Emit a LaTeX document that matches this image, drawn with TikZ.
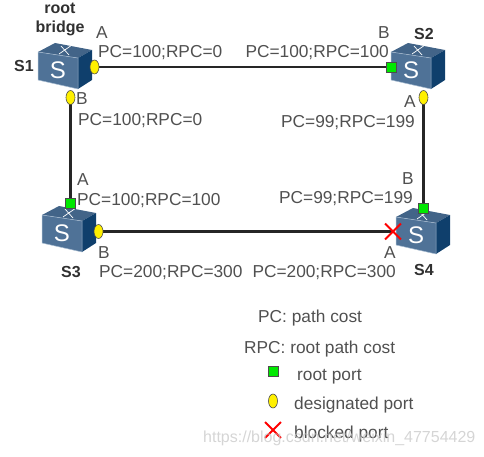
\documentclass[tikz,border=0pt]{standalone}
\usepackage{fontspec}
\setmainfont{Liberation Sans}
\usepackage{tikz}
\usetikzlibrary{shapes.geometric, shapes.misc}
\definecolor{labelgray}{HTML}{505050}
\definecolor{boldgray}{HTML}{303030}
\definecolor{linkdark}{HTML}{262626}
\definecolor{cubefront}{HTML}{4F7297}
\definecolor{cubetop}{HTML}{426488}
\definecolor{cubeside}{HTML}{0F3F6C}
\definecolor{cubeedge}{HTML}{A9BDD2}
\definecolor{rootgreen}{HTML}{00E800}
\definecolor{desigyellow}{HTML}{FFF000}
\tikzset{
    portlabel/.style={text=labelgray, font=\fontsize{17.3}{18}\selectfont, inner sep=0pt, yshift=-1pt},
    swname/.style={text=boldgray, font=\fontsize{16}{18}\selectfont\bfseries, inner sep=0pt},
    rootport/.style={rectangle, draw=black!70, fill=rootgreen, line width=0.6pt, minimum size=10pt, inner sep=0pt},
    desigport/.style={ellipse, draw=black!70, fill=desigyellow, line width=0.6pt, minimum width=9pt, minimum height=14pt, inner sep=0pt},
    blockport/.style={cross out, draw=red, line width=1.8pt, minimum size=14pt, inner sep=0pt},
    link/.style={draw=linkdark, line width=2.2pt},
    switchbox/.pic={
        \fill[cubefront] (-27,-14) -- (13,-8) -- (13,23) -- (-27,14) -- cycle;
        \fill[cubetop] (-27,-14) -- (-10,-23) -- (27,-16) -- (13,-8) -- cycle;
        \fill[cubeside] (13,-8) -- (27,-16) -- (27,14) -- (13,23) -- cycle;
        \draw[cubeedge, line width=0.5pt] (-27,-14) -- (13,-8) -- (13,23) (-27,-14) -- (-27,14) -- (13,23);
        \draw[white, line width=0.7pt] (-6,-12) -- (7,-21) (-4,-20) -- (4,-11);
        \node[text=white, inner sep=0pt, font=\fontsize{24}{24}\selectfont] at (-7,4) {S};
    },
}
\begin{document}
\begin{tikzpicture}[x=1pt, y=-1pt]
    \useasboundingbox (0,0) rectangle (484,457);

    % Links first, ports sit on top
    \coordinate (s1a) at (94.5,67);
    \coordinate (s1b) at (70.5,97.5);
    \coordinate (s2b) at (391,67);
    \coordinate (s2a) at (423.5,97.5);
    \coordinate (s3a) at (70.5,203);
    \coordinate (s3b) at (98.5,231.5);
    \coordinate (s4b) at (423.5,208);
    \coordinate (s4a) at (393,231.5);
    \draw[link] (s1a) -- (s2b);
    \draw[link] (s1b) -- (s3a);
    \draw[link] (s2a) -- (s4b);
    \draw[link] (s3b) -- (s4a);

    % Switches
    \pic at (65,66) {switchbox};
    \pic at (418,66) {switchbox};
    \pic at (69,229) {switchbox};
    \pic at (423,231) {switchbox};

    % Ports
    \node[desigport] (p1a) at (s1a) {};
    \node[desigport] (p1b) at (s1b) {};
    \node[rootport] (p2b) at (s2b) {};
    \node[desigport] (p2a) at (s2a) {};
    \node[rootport] (p3a) at (s3a) {};
    \node[desigport] (p3b) at (s3b) {};
    \node[rootport] (p4b) at (s4b) {};
    \node[blockport] (p4a) at (s4a) {};

    % Switch names
    \node[swname] (rootname) at (60,8) {root};
    \node[swname] (bridgename) at (60,28) {bridge};
    \node[swname] (s1name) at (24,66) {S1};
    \node[swname] (s2name) at (424,34) {S2};
    \node[swname] (s3name) at (71,272) {S3};
    \node[swname] (s4name) at (424,270) {S4};

    % Port letters
    \node[portlabel] (la1) at (102,32) {A};
    \node[portlabel] (lb1) at (82,98) {B};
    \node[portlabel] (lb2) at (384,32) {B};
    \node[portlabel] (la2) at (410,101) {A};
    \node[portlabel] (la3) at (83,179) {A};
    \node[portlabel] (lb3) at (104,252) {B};
    \node[portlabel] (lb4) at (408,178) {B};
    \node[portlabel] (la4) at (390,252) {A};

    % Costs
    \node[portlabel, anchor=west] (c1a) at (98,52) {PC=100;RPC=0};
    \node[portlabel, anchor=west] (c1b) at (78,120) {PC=100;RPC=0};
    \node[portlabel, anchor=east] (c2b) at (389,52) {PC=100;RPC=100};
    \node[portlabel, anchor=east] (c2a) at (415,122) {PC=99;RPC=199};
    \node[portlabel, anchor=west] (c3a) at (77,200) {PC=100;RPC=100};
    \node[portlabel, anchor=west] (c3b) at (99,272) {PC=200;RPC=300};
    \node[portlabel, anchor=east] (c4b) at (413,198) {PC=99;RPC=199};
    \node[portlabel, anchor=east] (c4a) at (396,272) {PC=200;RPC=300};

    % Legend
    \node[portlabel, anchor=west] (pctext) at (258,317) {PC: path cost};
    \node[portlabel, anchor=west] (rpctext) at (244,348) {RPC: root path cost};
    \node[rootport] (keyroot) at (273,371) {};
    \node[portlabel, anchor=west] (roottext) at (297,376) {root port};
    \node[desigport] (keydesig) at (273,401) {};
    \node[portlabel, anchor=west] (desigtext) at (294,404) {designated port};
    \node[blockport] (keyblock) at (273,430) {};
    \node[portlabel, anchor=west] (blocktext) at (294,433) {blocked port};

    % Watermark
    \node[anchor=west, inner sep=0pt, text=black!22, opacity=0.75, font=\fontsize{16}{18}\selectfont] (mark) at (203,438) {https://blog.csdn.net/weixin\_47754429};
\end{tikzpicture}
\end{document}
